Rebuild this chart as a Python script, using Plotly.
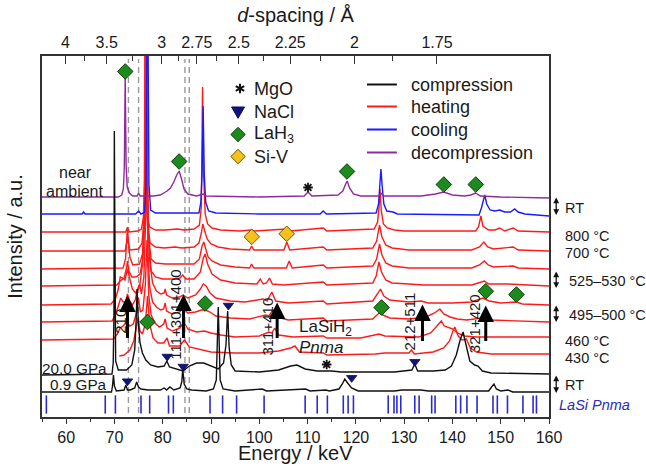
import plotly.graph_objects as go

# E (keV) * d (Angstrom) constant of the energy-dispersive setup
E_TIMES_D = 239.4

# ---------------- stacked spectra: (energy / keV, intensity above own baseline / a.u.) -------------
DECOMPRESSION = [(55,0),(64,0),(70.8,0),(71.5,2),(71.85,8),(72.05,30),(72.23,122),(72.42,32),(72.65,10),
    (73.1,4),(73.8,1),(74.7,1),(75.0,4),(75.3,1),(78.0,1),(79.5,2),(80.3,4),(80.9,6),(81.6,9),(82.3,15),
    (82.9,22),(83.4,26),(83.9,18),(84.4,8),(85.2,3),(87.0,1),(88.4,3),(89.0,1),(100,0),(109.3,1),(110.1,5),
    (110.9,1),(116.3,2),(117.3,6),(117.8,12),(118.2,16),(118.7,9),(119.5,3),(121,1),(124.7,1),(125.2,4),
    (125.7,1),(133.5,1),(136.5,3),(138.2,5),(140,2),(142.5,1),(143.8,2),(144.8,4),(145.8,1),(150,0),(160,-1)]
COOLING = [(55,0),(63.3,0),(63.6,2),(63.9,0),(74.4,0),(75.0,3),(75.5,0),(76.25,2),(76.55,30),(76.85,260),
    (77.15,30),(77.5,4),(78.5,1),(87.5,1),(87.9,12),(88.15,40),(88.37,108),(88.6,40),(88.9,12),(89.5,3),
    (91,1),(100,0),(112.6,0),(113.25,3),(113.9,0),(124.2,1),(124.7,10),(124.95,30),(125.19,45),(125.45,28),
    (125.8,10),(126.4,3),(127.7,2),(128.6,0),(145.5,-1),(146.0,6),(146.4,15),(146.7,19),(147.1,10),(147.8,4),
    (148.8,3),(149.8,4),(150.8,2),(152.0,2),(152.9,5),(153.6,2),(155,0),(160,-2)]
HEAT_800 = [(55,0),(72.3,0),(72.7,4),(73.1,0),(74.8,1),(75.6,3),(76.0,15),(76.2,50),(76.37,260),(76.55,50),
    (76.8,15),(77.3,5),(78.5,2),(80.5,2),(83.0,3),(84.5,2),(86.5,3),(87.6,7),(88.0,25),(88.15,70),(88.25,145),
    (88.45,60),(88.8,18),(89.3,8),(90.2,4),(92,2),(96,1),(98.4,2),(99,1),(105.7,3),(106.5,1),(113.25,4),
    (114,1),(123.8,3),(124.5,10),(124.8,25),(125.0,43),(125.25,22),(125.7,8),(126.5,4),(128,2),(130,1),
    (144.8,1),(145.4,5),(145.9,16),(146.3,6),(147.5,2),(148.8,2),(149.8,4),(150.8,1),(152.6,4),(153.6,1),(160,0)]
HEAT_700 = [(55,0),(72.2,0),(72.7,12),(73.2,1),(75.0,2),(75.7,8),(76.1,30),(76.3,80),(76.45,260),(76.65,70),
    (76.9,25),(77.4,8),(78.5,4),(80.3,3),(82.5,4),(84.0,3),(86.5,4),(87.5,8),(88.0,18),(88.3,27),(88.7,20),
    (89.2,12),(90,7),(91.5,4),(94,2),(98.0,1),(98.4,5),(98.9,1),(105.1,1),(105.7,9),(106.3,1),(113.25,4),
    (114,1),(123.5,3),(124.3,10),(124.9,26),(125.4,14),(126.2,6),(127.5,3),(131,1),(144,1),(145.6,4),
    (146.5,9),(147.3,4),(148.5,2),(152.6,4),(153.6,1),(160,0)]
HEAT_530_A = [(55,0),(71.8,1),(72.3,10),(72.55,28),(72.7,42),(72.9,28),(73.2,12),(73.8,4),(75.2,5),(75.8,15),
    (76.2,45),(76.4,120),(76.55,260),(76.75,90),(77.0,35),(77.6,10),(78.5,6),(80.5,5),(82.5,5),(84.2,5),
    (86.5,5),(87.6,10),(88.1,22),(88.5,27),(88.9,20),(89.4,12),(90.2,8),(92,4),(95,2),(98.0,1),(98.4,5),
    (98.9,1),(105.6,1),(106.2,8),(106.8,1),(113.25,4),(114,1),(123.5,3),(124.3,10),(124.9,25),(125.4,14),
    (126.2,6),(127.5,3),(131,1),(144,1),(145.6,4),(146.6,8),(147.4,4),(148.5,2),(152.6,3),(153.6,1),(160,0)]
HEAT_530_B = [(55,0),(70.5,1),(71.2,5),(72.0,8),(72.5,18),(72.7,25),(73.0,15),(73.6,9),(74.5,9),(75.3,12),
    (75.9,28),(76.3,70),(76.5,150),(76.65,260),(76.85,110),(77.1,45),(77.6,15),(78.5,9),(80.0,7),(82.0,7),
    (83.6,8),(84.15,11),(84.8,7),(86.5,7),(87.8,14),(88.4,28),(88.8,32),(89.3,22),(90.2,12),(92,6),(95,3),
    (99.5,2),(100.2,7),(100.8,2),(101.5,3),(102.1,8),(102.7,2),(105,1),(113.25,4),(114,1),(123.5,3),
    (124.2,10),(124.8,24),(125.3,14),(126.2,6),(127.5,3),(131,2),(134,1),(144,1),(145.6,3),(146.6,5),
    (147.5,2),(151.5,2),(160,0)]
HEAT_500_A = [(55,0),(69.3,1),(70.2,6),(70.8,16),(71.2,28),(71.7,27),(72.2,25),(72.7,36),(73.1,28),(73.7,16),
    (74.4,12),(75.2,18),(75.8,40),(76.2,90),(76.45,150),(76.7,190),(76.95,90),(77.3,45),(77.9,22),(78.7,14),
    (79.6,11),(80.3,12),(80.5,16),(80.8,10),(82,7),(83.5,8),(84.2,10),(85.2,7),(86.8,10),(87.8,16),(88.4,21),
    (89.0,19),(89.8,12),(91,7),(94,4),(97,3),(100.8,6),(101.6,4),(102.6,13),(103.4,4),(106,2),(113.25,4),
    (114,1),(118,2),(123.5,4),(124.6,12),(125.1,16),(125.8,9),(127,5),(129,4),(131,3),(133.5,4),(135,2),
    (140,2),(144,3),(146.3,7),(147.6,4),(150,2),(153.2,3),(154.5,1),(160,0)]
HEAT_500_B = [(55,0),(69.5,1),(70.3,8),(70.9,18),(71.3,24),(71.8,20),(72.3,20),(72.7,28),(73.1,22),(73.7,17),
    (74.3,22),(74.8,33),(75.2,38),(75.6,28),(76.1,45),(76.45,100),(76.7,150),(76.95,70),(77.3,35),(77.9,20),
    (78.7,15),(79.6,12),(80.2,13),(80.5,19),(80.8,11),(82,8),(83.5,10),(84.2,14),(85.2,9),(86.8,10),(88.0,12),
    (88.8,12),(89.8,10),(91,6),(94,4),(98,3),(101.3,7),(102.0,6),(102.8,12),(103.6,5),(106,2),(113.25,4),
    (114,1),(123.5,3),(124.8,9),(125.6,7),(127,4),(131,3),(134.5,5),(136.3,9),(137.0,12),(137.4,13),
    (138.2,8),(139.5,5),(141,3),(143,2),(146,4),(148,2),(160,0)]
HEAT_460 = [(55,0),(69.8,1),(70.6,6),(71.2,12),(71.8,14),(72.5,18),(73.2,14),(73.9,16),(74.5,26),(74.95,42),
    (75.4,28),(75.9,30),(76.4,55),(76.75,100),(77.1,45),(77.6,25),(78.4,17),(79.3,13),(80.2,16),(80.5,21),
    (80.9,12),(82,9),(83.6,12),(84.4,18),(85.2,11),(87,8),(88.6,9),(90,7),(92,5),(95,3),(100,4),(102.0,8),
    (102.6,7),(103.2,12),(104.0,5),(107,3),(113.25,4),(114,2),(121,2),(124.8,6),(126,4),(130,3),(133,3),
    (135.5,7),(136.8,14),(137.4,18),(137.7,19),(138.3,14),(139.3,12),(140.1,11),(141.0,7),(142.5,4),
    (145,3),(148,3),(160,3)]
HEAT_430 = [(71,0),(72,1),(73.2,6),(74.0,15),(74.5,28),(74.9,38),(75.3,25),(75.8,22),(76.4,32),(76.85,60),
    (77.3,32),(78.0,18),(79.0,13),(80.2,13),(80.9,18),(81.4,10),(83.5,10),(84.5,16),(85.5,9),(88,6),(90,4),
    (95,3),(100,3),(104,5),(106.5,8),(107.4,10),(108.3,4),(113.25,3),(114,1),(124,2),(126,3),(131.0,3),
    (131.5,6),(132.1,2),(136,4),(138.2,8),(139.4,15),(140.1,25),(140.5,29),(141.2,20),(142.0,16),(142.9,17),
    (143.7,8),(145,4),(148,2),(160,2)]
COMP_20GPA = [(55,0),(69.5,1),(69.75,12),(69.9,60),(69.98,244),(70.08,60),(70.25,14),(70.8,5),(72.5,5),
    (73.6,10),(74.2,25),(74.5,55),(74.7,86),(74.95,52),(75.3,32),(75.8,22),(76.5,15),(77.5,10),(79,8),
    (80.3,9),(80.85,14),(81.4,8),(83,6),(84.2,4),(85.5,9),(87,12),(88.5,12),(90.3,8),(91.5,6),(92.6,12),
    (93.1,30),(93.45,64),(93.75,28),(94.2,10),(95,4),(100,3),(104,5),(106.5,9),(107.8,10),(109.5,6),(112,4),
    (115,4),(117,3),(120,3),(128,3),(131.6,5),(132.2,11),(132.8,4),(136,4),(138.5,5),(139.8,9),(140.8,20),
    (141.6,35),(142.2,43),(142.8,30),(143.6,14),(144.6,10),(145.3,9),(146.2,4),(148,2),(160,1)]
COMP_09GPA = [(55,0),(69.4,0),(69.6,6),(69.8,17),(70.0,6),(70.4,1),(72.0,2),(72.35,7),(72.7,2),(73.3,2),
    (74.2,4),(74.6,10),(75.0,5),(75.5,3),(77,2),(79.5,2),(80.3,4),(80.8,2),(81.5,5),(82.3,2),(83.6,4),
    (83.95,10),(84.15,23),(84.45,8),(85.0,3),(86,2),(89,1),(90.5,3),(91.1,12),(91.5,85),(91.9,12),(92.5,3),
    (95,1),(100.6,3),(101.5,1),(109.6,3),(110.5,1),(113.8,2),(114.5,1),(116.5,3),(117.2,8),(117.7,13),
    (118.3,9),(119.1,4),(120.5,1),(128,1),(129.5,2),(133.5,2),(135,1),(147.5,1),(148.1,5),(148.6,8),
    (149.1,3),(150,1),(151.5,2),(152.5,0),(160,0)]

# baseline (vertical offset) of every stacked pattern
OFFSETS = {"DECOMPRESSION": 220, "COOLING": 203, "HEAT_800": 185, "HEAT_700": 166, "HEAT_530_A": 148,
           "HEAT_530_B": 131, "HEAT_500_A": 112, "HEAT_500_B": 95, "HEAT_460": 77, "HEAT_430": 61,
           "COMP_20GPA": 42, "COMP_09GPA": 25}

# ---------------- phase markers (energy, height) ----------------
LAH3_E = [72.23, 83.40, 118.16, 138.22, 144.84, 76.85, 88.78, 125.33, 146.91, 153.26]
LAH3_Y = [345.5, 255.5, 245.5, 232.5, 232.5, 95.0, 113.5, 109.5, 125.8, 122.5]
SIV_E = [98.44, 105.68]
SIV_Y = [180.2, 183.2]
NACL_E = [80.92, 84.23, 93.60, 132.22, 72.71, 119.13]
NACL_Y = [60.5, 50.5, 111.5, 55.2, 35.8, 39.2]
MGO_E = [110.09, 113.96]
MGO_Y = [229.5, 52.5]
LASI_PNMA_E = [55.9, 68.1, 70.2, 75.5, 77.3, 81.2, 82.2, 89.8, 92.4, 95.3, 101.0, 109.5, 112.0, 114.1, 117.4,
               118.4, 119.5, 126.7, 127.9, 128.5, 129.3, 132.2, 133.1, 135.7, 136.4, 140.7, 141.7, 143.0,
               145.1, 148.4, 149.3, 151.4, 154.6, 156.7, 157.4]
LASI_TICK_Y = 12.5
DASHED_E = [72.9, 75.0, 84.6, 85.5]

# top-axis d-spacing ticks
D_TICKS = [4, 3.5, 3, 2.75, 2.5, 2.25, 2, 1.75]
D_LABELS = ["4", "3.5", "3", "2.75", "2.5", "2.25", "2", "1.75"]
D_MINOR = [3.75, 3.25, 2.875, 2.625, 2.375, 2.125, 1.875]
E_TICKS = list(range(60, 161, 10))
E_MINOR = list(range(55, 160, 10))

# LaSiH2 Pnma reflections: (label, energy, arrow tail, arrow head, label energy, label height)
REFLECTIONS = [("210", 72.7, 77.5, 121.5, 71.2, 95.5),
               ("111+301+400", 84.3, 77.5, 122.5, 82.6, 102.5),
               ("311+410", 103.7, 77.5, 114.5, 101.8, 90.5),
               ("212+511", 133.8, 74.5, 112.5, 131.2, 95.5),
               ("321+420", 146.9, 74.5, 111.5, 144.6, 93.5)]

# right-hand temperature labels: (text, height, has double arrow, arrow top, arrow bottom)
RIGHT_LABELS = [("RT", 209.5, True, 219.5, 200.5), ("800 °C", 181.5, False, 0, 0),
                ("700 °C", 164.5, False, 0, 0), ("525–530 °C", 136.5, True, 145.5, 127.5),
                ("495–500 °C", 102.5, True, 111.5, 93.5), ("460 °C", 76.0, False, 0, 0),
                ("430 °C", 59.5, False, 0, 0), ("RT", 32.0, True, 41.5, 22.5)]

# key (legend) entries
LINE_KEYS = ["compression", "heating", "cooling", "decompression"]
LINE_KEY_Y = [332.5, 310.5, 287.5, 264.5]
SYMBOL_KEYS = ["MgO", "NaCl", "LaH<sub>3</sub>", "Si-V"]
SYMBOL_KEY_Y = [328.5, 305.5, 282.5, 260.5]

FONT = "Liberation Sans, Arial, sans-serif"
TXT = "#1a1a1a"
COL = {"compression": "#111111", "heating": "#ff1a1a", "cooling": "#1a1aff", "decompression": "#8f2a9c"}
GREEN, GREEN_EDGE = "#1c8a1c", "#0b3d0b"
YELLOW, YELLOW_EDGE = "#f5c21b", "#6b5500"
NAVY = "#12127e"

fig = go.Figure()

def add_spectrum(key, data, group):
    xs = [p[0] for p in data]
    ys = [p[1] + OFFSETS[key] for p in data]
    fig.add_trace(go.Scatter(x=xs, y=ys, mode="lines", name=key, showlegend=False,
                             line=dict(color=COL[group], width=1.4), hoverinfo="skip"))

heat = [("HEAT_430", HEAT_430), ("HEAT_460", HEAT_460), ("HEAT_500_B", HEAT_500_B), ("HEAT_500_A", HEAT_500_A),
        ("HEAT_530_B", HEAT_530_B), ("HEAT_530_A", HEAT_530_A), ("HEAT_700", HEAT_700), ("HEAT_800", HEAT_800)]
for k, d in heat:
    add_spectrum(k, d, "heating")
add_spectrum("COOLING", COOLING, "cooling")
add_spectrum("DECOMPRESSION", DECOMPRESSION, "decompression")
add_spectrum("COMP_20GPA", COMP_20GPA, "compression")
add_spectrum("COMP_09GPA", COMP_09GPA, "compression")

# LaSi Pnma reference ticks
fig.add_trace(go.Scatter(x=LASI_PNMA_E, y=[LASI_TICK_Y] * len(LASI_PNMA_E), mode="markers", showlegend=False,
                         marker=dict(symbol="line-ns-open", size=13, color="#2a2ad0",
                                     line=dict(color="#2a2ad0", width=1.6)), hoverinfo="skip"))

# phase markers
fig.add_trace(go.Scatter(x=MGO_E, y=MGO_Y, mode="markers", name="MgO", showlegend=False,
                         marker=dict(symbol="asterisk-open", size=8, color="#111111",
                                     line=dict(color="#111111", width=1.8))))
fig.add_trace(go.Scatter(x=NACL_E, y=NACL_Y, mode="markers", name="NaCl", showlegend=False,
                         marker=dict(symbol="triangle-down", size=9, color=NAVY,
                                     line=dict(color="#0a0a50", width=0.8))))
fig.add_trace(go.Scatter(x=LAH3_E, y=LAH3_Y, mode="markers", name="LaH3", showlegend=False,
                         marker=dict(symbol="diamond", size=12, color=GREEN, line=dict(color=GREEN_EDGE, width=1))))
fig.add_trace(go.Scatter(x=SIV_E, y=SIV_Y, mode="markers", name="Si-V", showlegend=False,
                         marker=dict(symbol="diamond", size=12, color=YELLOW, line=dict(color=YELLOW_EDGE, width=1))))
# carrier trace for the top axis
fig.add_trace(go.Scatter(x=[55, 160], y=[None, None], xaxis="x2", showlegend=False, hoverinfo="skip"))

shapes = []
for e in DASHED_E:
    shapes.append(dict(type="line", xref="x", yref="y", x0=e, x1=e, y0=4, y1=358, layer="below",
                       line=dict(color="#9a9a9a", width=1.4, dash="6px,4px")))

ann = []
# line key
for name, y in zip(LINE_KEYS, LINE_KEY_Y):
    shapes.append(dict(type="line", xref="x", yref="y", x0=122.3, x1=128.5, y0=y, y1=y,
                       line=dict(color=COL[name], width=2)))
    ann.append(dict(x=131.0, y=y, text=name, showarrow=False, xanchor="left", font=dict(size=18, color=TXT)))
# symbol key (pixel-sized glyphs anchored in data space)
key_paths = ["M0,-4.8L0,4.8M-4.2,-2.4L4.2,2.4M-4.2,2.4L4.2,-2.4",
             "M-6.5,4.5L6.5,4.5L0,-6.8Z",
             "M0,-7.2L7.2,0L0,7.2L-7.2,0Z",
             "M0,-7.2L7.2,0L0,7.2L-7.2,0Z"]
key_fill = [None, NAVY, GREEN, YELLOW]
key_edge = ["#111111", "#0a0a50", GREEN_EDGE, YELLOW_EDGE]
key_x = [96.0, 95.6, 95.6, 95.6]
for name, y, p, f, ec, kx in zip(SYMBOL_KEYS, SYMBOL_KEY_Y, key_paths, key_fill, key_edge, key_x):
    s = dict(type="path", xref="x", yref="y", xsizemode="pixel", ysizemode="pixel", xanchor=kx, yanchor=y,
             path=p, line=dict(color=ec, width=2 if f is None else 1))
    if f is not None:
        s["fillcolor"] = f
    shapes.append(s)
    ann.append(dict(x=98.5, y=y, text=name, showarrow=False, xanchor="left", font=dict(size=18, color=TXT)))

ann.append(dict(x=61.9, y=245, text="near", showarrow=False, font=dict(size=16, color=TXT)))
ann.append(dict(x=61.8, y=225.5, text="ambient", showarrow=False, font=dict(size=16, color=TXT)))
ann.append(dict(x=68.8, y=49.0, text="20.0 GPa", showarrow=False, xanchor="right",
                font=dict(size=15.3, color=TXT)))
ann.append(dict(x=68.8, y=33.0, text="0.9 GPa", showarrow=False, xanchor="right",
                font=dict(size=15.3, color=TXT)))
ann.append(dict(x=113.8, y=89.5, text="LaSiH<sub>2</sub>", showarrow=False, font=dict(size=17, color=TXT)))
ann.append(dict(x=112.8, y=69.5, text="<i>Pnma</i>", showarrow=False, font=dict(size=17, color=TXT)))
for lab, e, y0, y1, le, ly in REFLECTIONS:
    ann.append(dict(x=e, y=y1, ax=e, ay=y0, axref="x", ayref="y", text="", showarrow=True,
                    arrowhead=2, arrowsize=1.1, arrowwidth=3, arrowcolor="#000000"))
    ann.append(dict(x=le, y=ly, text=lab, textangle=-90, showarrow=False, font=dict(size=15, color=TXT)))
for lab, y, arr, ya, yb in RIGHT_LABELS:
    xoff = 1.036 if arr and lab != "RT" else 1.028
    ann.append(dict(x=xoff, xref="paper", y=y, text=lab, showarrow=False, xanchor="left",
                    font=dict(size=14.5, color=TXT)))
    if arr:
        ann.append(dict(x=1.0142, xref="paper", y=ya, ax=0, ay=ya - yb, text="", showarrow=True,
                        arrowside="end+start", arrowhead=2, arrowsize=0.9, arrowwidth=1.3,
                        arrowcolor="#111111"))
ann.append(dict(x=1.016, xref="paper", y=LASI_TICK_Y, text="<i>LaSi Pnma</i>", showarrow=False,
                xanchor="left", font=dict(size=14.5, color="#2b2bb5")))
# bottom axis title (placed just under the tick labels)
ann.append(dict(x=0.5, xref="paper", y=-0.101, yref="paper", text="Energy / keV", showarrow=False,
                yanchor="middle", font=dict(size=20, color=TXT)))

axis_common = dict(showgrid=False, zeroline=False, showline=True, linecolor="#333333", linewidth=1.5,
                   tickcolor="#333333", tickfont=dict(size=16, color=TXT), automargin=False)

fig.update_layout(
    width=646, height=466, margin=dict(l=42, r=97, t=56, b=49),
    paper_bgcolor="white", plot_bgcolor="white", showlegend=False,
    font=dict(family=FONT, color=TXT),
    xaxis=dict(range=[55, 160], tickvals=E_TICKS, ticks="outside", ticklen=5, tickwidth=1.3,
               minor=dict(tickvals=E_MINOR, ticks="outside", ticklen=3, tickwidth=1.2, tickcolor="#333333"),
               **axis_common),
    xaxis2=dict(range=[55, 160], overlaying="x", side="top", tickvals=[E_TIMES_D / d for d in D_TICKS],
                ticktext=D_LABELS, ticks="inside", ticklen=8, tickwidth=1.3,
                minor=dict(tickvals=[E_TIMES_D / d for d in D_MINOR], ticks="inside", ticklen=5,
                           tickwidth=1.2, tickcolor="#333333"),
                title=dict(text="<i>d</i>-spacing / Å", font=dict(size=20, color=TXT), standoff=6),
                **axis_common),
    yaxis=dict(range=[0, 361], showticklabels=False, ticks="", mirror=True,
               title=dict(text="Intensity / a.u.", font=dict(size=20, color=TXT), standoff=12),
               **axis_common),
    shapes=shapes, annotations=ann, hovermode=False,
)

fig.write_html("out.html")
